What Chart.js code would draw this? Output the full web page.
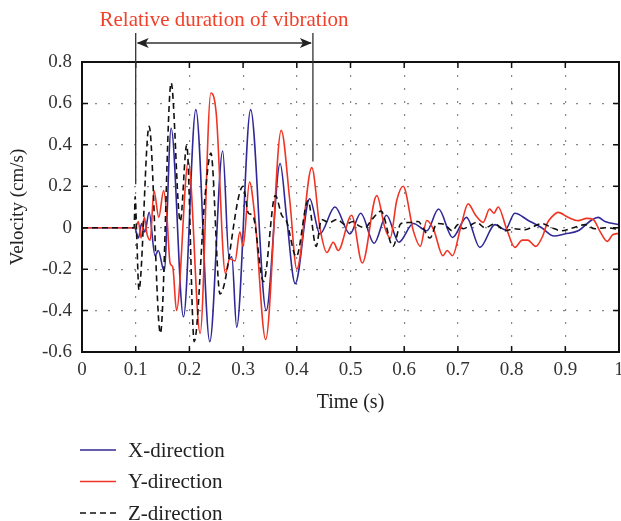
<!DOCTYPE html>
<html>
<head>
<meta charset="utf-8">
<script src="https://cdn.jsdelivr.net/npm/chart.js@4.4.1/dist/chart.umd.min.js"></script>
<style>
    html, body { margin: 0; padding: 0; background: #fff; }
    #wrap { width: 621px; height: 521px; }
</style>
</head>
<body>
<div id="wrap"><canvas id="velocityChart" width="621" height="521"></canvas></div>
<script>
// series data (time in s, velocity in cm/s)
const xTime = [0, 0.098, 0.105, 0.111, 0.117, 0.125, 0.136, 0.142, 0.153, 0.166, 0.189, 0.212, 0.238, 0.262, 0.274, 0.279, 0.288, 0.314, 0.343, 0.369, 0.381, 0.397, 0.424, 0.443, 0.471, 0.499, 0.519, 0.544, 0.567, 0.590, 0.617, 0.642, 0.664, 0.690, 0.716, 0.741, 0.769, 0.788, 0.806, 0.831, 0.856, 0.879, 0.899, 0.924, 0.949, 0.961, 0.974, 1.0];
const xVel  = [0, 0, -0.05, 0.02, -0.02, 0.075, -0.135, -0.11, -0.21, 0.48, -0.43, 0.57, -0.55, 0.37, -0.15, -0.14, -0.48, 0.57, -0.40, 0.31, 0.05, -0.27, 0.14, -0.03, 0.10, -0.03, 0.07, -0.075, 0.06, -0.07, 0.02, -0.015, 0.09, -0.047, 0.05, -0.095, 0.015, -0.01, 0.07, 0.035, 0.0, -0.04, -0.03, -0.015, 0.037, 0.05, 0.03, 0.015];

const yTime = [0, 0.099, 0.105, 0.110, 0.116, 0.121, 0.127, 0.134, 0.143, 0.152, 0.158, 0.164, 0.169, 0.176, 0.198, 0.220, 0.240, 0.250, 0.267, 0.275, 0.285, 0.294, 0.300, 0.312, 0.322, 0.342, 0.371, 0.387, 0.400, 0.428, 0.443, 0.456, 0.468, 0.477, 0.502, 0.522, 0.549, 0.564, 0.574, 0.586, 0.598, 0.617, 0.630, 0.642, 0.655, 0.672, 0.680, 0.690, 0.705, 0.719, 0.733, 0.747, 0.759, 0.767, 0.775, 0.790, 0.806, 0.820, 0.830, 0.845, 0.858, 0.866, 0.874, 0.887, 0.905, 0.924, 0.940, 0.952, 0.965, 0.978, 0.988, 1.0];
const yVel  = [0, 0, 0.03, -0.05, 0.05, -0.03, -0.06, 0.18, 0.05, 0.18, 0.06, -0.17, -0.19, -0.40, 0.32, -0.51, 0.65, 0.55, -0.22, -0.15, -0.16, -0.02, -0.09, 0.22, 0.05, -0.54, 0.47, 0.13, -0.20, 0.29, 0.0, -0.12, -0.07, -0.11, 0.06, -0.17, 0.155, 0.0, -0.05, 0.13, 0.20, -0.015, -0.09, 0.035, -0.01, -0.135, -0.11, -0.135, 0.0, 0.115, 0.06, 0.026, 0.09, 0.07, 0.10, 0.0, -0.095, -0.06, -0.06, -0.09, -0.04, 0.02, 0.05, 0.074, 0.05, 0.034, 0.045, 0.04, -0.02, -0.066, -0.035, -0.027];

const zTime = [0, 0.097, 0.099, 0.102, 0.106, 0.125, 0.146, 0.166, 0.183, 0.195, 0.209, 0.229, 0.240, 0.257, 0.300, 0.310, 0.318, 0.338, 0.360, 0.372, 0.381, 0.399, 0.421, 0.436, 0.446, 0.460, 0.475, 0.490, 0.505, 0.515, 0.527, 0.540, 0.557, 0.579, 0.594, 0.610, 0.626, 0.635, 0.648, 0.661, 0.675, 0.690, 0.700, 0.710, 0.722, 0.735, 0.750, 0.769, 0.788, 0.805, 0.825, 0.840, 0.856, 0.875, 0.893, 0.915, 0.937, 0.955, 0.975, 1.0];
const zVel  = [0, 0, 0.15, -0.05, -0.30, 0.49, -0.51, 0.70, 0.03, 0.40, -0.55, 0.15, 0.36, -0.32, 0.20, 0.07, 0.06, -0.26, 0.155, 0.06, 0.03, -0.14, 0.13, -0.09, 0.04, 0.025, 0.04, 0.015, 0.03, 0.01, 0.0, 0.04, 0.08, -0.09, 0.02, 0.025, 0.03, 0.0, -0.05, 0.02, 0.015, -0.015, 0.015, -0.005, 0.01, 0.026, 0.0, 0.018, -0.015, -0.005, -0.01, 0.005, 0.02, 0.0, -0.015, 0.0, 0.015, -0.005, 0.0, -0.008];

// axis ticks
const xTicks = [0, 0.1, 0.2, 0.3, 0.4, 0.5, 0.6, 0.7, 0.8, 0.9, 1];
const yTicks = [-0.6, -0.4, -0.2, 0, 0.2, 0.4, 0.6, 0.8];

// series labels and annotation
const seriesLabels = ['X-direction', 'Y-direction', 'Z-direction'];
const durationStart = 0.1;
const durationEnd = 0.43;
const durationText = 'Relative duration of vibration';

const SERIF = "'Liberation Serif', 'DejaVu Serif', serif";

function toPoints(times, vals) {
    return times.map((t, i) => ({ x: t, y: vals[i] }));
}

function fmtTick(v) {
    if (Math.abs(v) < 1e-9) return '0';
    if (Math.abs(v - 1) < 1e-9) return '1';
    return v.toFixed(1);
}

// frame, inward ticks, duration arrow and legend
const decorPlugin = {
    id: 'decor',
    afterDraw(chart) {
        const ctx = chart.ctx;
        const area = chart.chartArea;
        const xs = chart.scales.x;
        const ys = chart.scales.y;

        ctx.save();
        // frame
        ctx.strokeStyle = '#111';
        ctx.lineWidth = 2;
        ctx.strokeRect(area.left, area.top, area.right - area.left, area.bottom - area.top);

        // inward tick marks
        ctx.lineWidth = 1.5;
        ctx.beginPath();
        xTicks.forEach(v => {
            const px = xs.getPixelForValue(v);
            ctx.moveTo(px, area.bottom); ctx.lineTo(px, area.bottom - 6);
            ctx.moveTo(px, area.top); ctx.lineTo(px, area.top + 6);
        });
        yTicks.forEach(v => {
            const py = ys.getPixelForValue(v);
            ctx.moveTo(area.left, py); ctx.lineTo(area.left + 6, py);
            ctx.moveTo(area.right, py); ctx.lineTo(area.right - 6, py);
        });
        ctx.stroke();

        // duration markers
        const xL = xs.getPixelForValue(durationStart);
        const xR = xs.getPixelForValue(durationEnd);
        const arrowY = 43;
        ctx.strokeStyle = '#333';
        ctx.lineWidth = 1.3;
        ctx.beginPath();
        ctx.moveTo(xL, 33); ctx.lineTo(xL, ys.getPixelForValue(0.21));
        ctx.moveTo(xR, 33); ctx.lineTo(xR, ys.getPixelForValue(0.32));
        ctx.moveTo(xL + 2, arrowY); ctx.lineTo(xR - 2, arrowY);
        ctx.stroke();
        ctx.fillStyle = '#222';
        [[xL, 1], [xR, -1]].forEach(([x0, dir]) => {
            ctx.beginPath();
            ctx.moveTo(x0 + dir * 1, arrowY);
            ctx.lineTo(x0 + dir * 13, arrowY - 5);
            ctx.lineTo(x0 + dir * 10, arrowY);
            ctx.lineTo(x0 + dir * 13, arrowY + 5);
            ctx.closePath();
            ctx.fill();
        });

        ctx.fillStyle = '#f0412b';
        ctx.font = '21px ' + SERIF;
        ctx.textAlign = 'center';
        ctx.textBaseline = 'middle';
        ctx.fillText(durationText, 224, 20);

        // legend (vertical list)
        ctx.textAlign = 'left';
        ctx.font = '21px ' + SERIF;
        chart.data.datasets.forEach((ds, i) => {
            const ly = 450 + i * 31.5;
            ctx.strokeStyle = ds.borderColor;
            ctx.lineWidth = 1.3;
            ctx.setLineDash(ds.borderDash || []);
            ctx.beginPath();
            ctx.moveTo(80, ly); ctx.lineTo(116, ly);
            ctx.stroke();
            ctx.setLineDash([]);
            ctx.fillStyle = '#222';
            ctx.fillText(ds.label, 128, ly + 1);
        });
        ctx.restore();
    }
};

const velocityChart = new Chart(document.getElementById('velocityChart'), {
    type: 'line',
    data: {
        datasets: [{
            label: seriesLabels[0],
            data: toPoints(xTime, xVel),
            borderColor: 'rgb(48, 40, 150)',
            borderWidth: 1.6,
            order: 2
        }, {
            label: seriesLabels[1],
            data: toPoints(yTime, yVel),
            borderColor: 'rgb(240, 52, 36)',
            borderWidth: 1.6,
            order: 1
        }, {
            label: seriesLabels[2],
            data: toPoints(zTime, zVel),
            borderColor: '#111',
            borderWidth: 1.6,
            borderDash: [6, 4],
            order: 0
        }]
    },
    options: {
        responsive: false,
        animation: false,
        layout: { padding: { top: 62, right: 2, left: 0, bottom: 0 } },
        elements: {
            point: { radius: 0 },
            line: { cubicInterpolationMode: 'monotone', fill: false }
        },
        plugins: {
            legend: { display: false },
            tooltip: { enabled: false }
        },
        scales: {
            x: {
                type: 'linear',
                min: 0,
                max: 1,
                afterFit(scale) {
                    scale.height = 169;
                    scale.paddingLeft = 0;
                    scale.paddingRight = 0;
                },
                afterBuildTicks(scale) { scale.ticks = xTicks.map(v => ({ value: v })); },
                ticks: {
                    callback: fmtTick,
                    maxRotation: 0,
                    autoSkip: false,
                    padding: 7,
                    color: '#333',
                    font: { family: SERIF, size: 19 }
                },
                grid: { color: '#888', lineWidth: 1.2, drawTicks: false },
                border: { display: false, dash: [2, 11] },
                title: {
                    display: true,
                    text: 'Time (s)',
                    color: '#222',
                    font: { family: SERIF, size: 20 },
                    padding: { top: 0, bottom: 106 }
                }
            },
            y: {
                min: -0.6,
                max: 0.8,
                afterFit(scale) {
                    scale.width = 82;
                    scale.paddingTop = 0;
                    scale.paddingBottom = 0;
                },
                afterBuildTicks(scale) { scale.ticks = yTicks.map(v => ({ value: v })); },
                ticks: {
                    callback: fmtTick,
                    autoSkip: false,
                    padding: 10,
                    color: '#333',
                    font: { family: SERIF, size: 19 }
                },
                grid: { color: '#888', lineWidth: 1.2, drawTicks: false },
                border: { display: false, dash: [2, 11] },
                title: {
                    display: true,
                    text: 'Velocity (cm/s)',
                    color: '#222',
                    font: { family: SERIF, size: 19 },
                    padding: { top: 7, bottom: 0 }
                }
            }
        }
    },
    plugins: [decorPlugin]
});
</script>
</body>
</html>
